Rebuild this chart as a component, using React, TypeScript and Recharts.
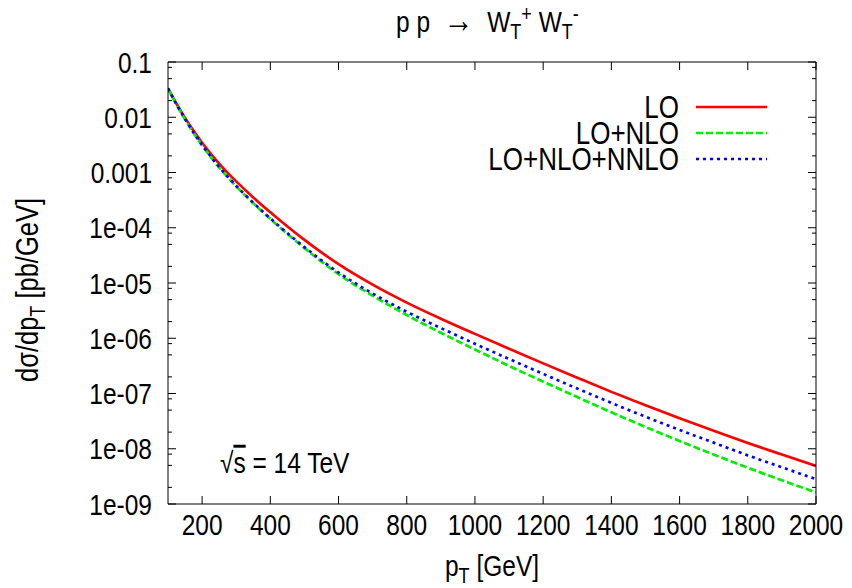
import React from 'react';
import { LineChart, Line, XAxis, YAxis, Legend } from 'recharts';

const pT = [100, 125, 150, 175, 200, 225, 250, 275, 300, 350, 400, 500, 600, 700, 800, 900, 1000, 1100, 1200, 1300, 1400, 1500, 1600, 1700, 1800, 1900, 2000];
const sigmaLO = [3.34e-2, 1.754e-2, 9.75e-3, 5.68e-3, 3.46e-3, 2.2e-3, 1.45e-3, 9.86e-4, 6.9e-4, 3.54e-4, 1.905e-4, 6.03e-5, 2.19e-5, 9.33e-6, 4.42e-6, 2.26e-6, 1.2e-6, 6.46e-7, 3.51e-7, 1.93e-7, 1.07e-7, 6.1e-8, 3.55e-8, 2.11e-8, 1.27e-8, 7.85e-9, 4.9e-9];
const sigmaNLO = [3.34e-2, 1.694e-2, 9.1e-3, 5.18e-3, 3.08e-3, 1.914e-3, 1.233e-3, 8.2e-4, 5.61e-4, 2.78e-4, 1.445e-4, 4.27e-5, 1.445e-5, 5.89e-6, 2.63e-6, 1.259e-6, 6.24e-7, 3.16e-7, 1.64e-7, 8.61e-8, 4.57e-8, 2.48e-8, 1.38e-8, 7.85e-9, 4.52e-9, 2.69e-9, 1.62e-9];
const sigmaNNLO = [3.34e-2, 1.714e-2, 9.31e-3, 5.3e-3, 3.155e-3, 1.96e-3, 1.262e-3, 8.39e-4, 5.74e-4, 2.84e-4, 1.479e-4, 4.47e-5, 1.549e-5, 6.46e-6, 3.02e-6, 1.531e-6, 7.94e-7, 4.22e-7, 2.265e-7, 1.23e-7, 6.76e-8, 3.8e-8, 2.19e-8, 1.29e-8, 7.59e-9, 4.62e-9, 2.82e-9];

const xTicks = [200, 400, 600, 800, 1000, 1200, 1400, 1600, 1800, 2000];
const yMajorTicks = [1e-9, 1e-8, 1e-7, 1e-6, 1e-5, 1e-4, 1e-3, 1e-2, 1e-1];
const yMajorLabels = ['1e-09', '1e-08', '1e-07', '1e-06', '1e-05', '1e-04', '0.001', '0.01', '0.1'];
const yMinorTicks = [
  2e-9, 5e-9, 8e-9, 2e-8, 5e-8, 8e-8, 2e-7, 5e-7, 8e-7, 2e-6, 5e-6, 8e-6,
  2e-5, 5e-5, 8e-5, 2e-4, 5e-4, 8e-4, 2e-3, 5e-3, 8e-3, 2e-2, 5e-2, 8e-2,
];

const seriesKeys = ['lo', 'nlo', 'nnlo'];
const seriesNames = ['LO', 'LO+NLO', 'LO+NLO+NNLO'];
const seriesColors = ['#ff0000', '#00ee00', '#0000ff'];
const seriesDashes = [undefined, '7 3', '3 4'];

const data = pT.map((x, i) => ({ pT: x, lo: sigmaLO[i], nlo: sigmaNLO[i], nnlo: sigmaNNLO[i] }));
const yAllTicks = [...yMajorTicks, ...yMinorTicks].sort((a, b) => a - b);

const FONT = "'Liberation Sans', Arial, Helvetica, sans-serif";
const FS = 24.5;
const SY = 1.2;

const ST = ({ x, y, anchor = 'start', size = FS, rotate = 0, dy, children }: any) => (
  <text
    transform={`translate(${x},${y}) rotate(${rotate}) scale(1,${SY})`}
    x={0}
    y={0}
    dy={dy}
    textAnchor={anchor}
    fontSize={size}
    fontFamily={FONT}
    fill="#000"
    style={{ whiteSpace: 'pre' }}
  >
    {children}
  </text>
);

const majorIndex = (v: number) =>
  yMajorTicks.findIndex((t) => Math.abs(Math.log10(t) - Math.log10(v)) < 1e-6);

const YTick = (props: any) => {
  const { x, y, payload, side } = props;
  const mi = majorIndex(payload.value);
  const len = mi >= 0 ? 8 : 4;
  const dir = side === 'left' ? 1 : -1;
  return (
    <g>
      <line x1={x} y1={y} x2={x + dir * len} y2={y} stroke="#000" strokeWidth={1} />
      {side === 'left' && mi >= 0 && (
        <ST x={x - 16} y={y} dy="0.36em" anchor="end">
          {yMajorLabels[mi]}
        </ST>
      )}
    </g>
  );
};

const XTick = (props: any) => {
  const { x, y, payload, side } = props;
  const dir = side === 'bottom' ? -1 : 1;
  return (
    <g>
      <line x1={x} y1={y} x2={x} y2={y + dir * 8} stroke="#000" strokeWidth={1} />
      {side === 'bottom' && (
        <ST x={x} y={y + 31} anchor="middle">
          {String(payload.value)}
        </ST>
      )}
    </g>
  );
};

const legendY = [107, 133, 159];

const renderLegend = () => (
  <svg width={852} height={200} style={{ display: 'block' }}>
    {seriesNames.map((n, i) => (
      <g key={n}>
        <ST x={679} y={legendY[i]} dy="0.36em" anchor="end" size={26}>
          {n}
        </ST>
        <line
          x1={696}
          x2={767}
          y1={legendY[i]}
          y2={legendY[i]}
          stroke={seriesColors[i]}
          strokeWidth={2.7}
          strokeDasharray={seriesDashes[i]}
        />
      </g>
    ))}
  </svg>
);

export default function App() {
  return (
    <div style={{ position: 'absolute', left: 0, top: 0, width: 852, height: 588, background: '#fff', fontFamily: FONT }}>
      <LineChart width={852} height={588} data={data} margin={{ top: 61, right: 35, bottom: 83, left: 167 }}>
        <XAxis
          xAxisId="bottom"
          dataKey="pT"
          type="number"
          domain={[100, 2000]}
          ticks={xTicks}
          interval={0}
          height={1}
          tickSize={0}
          tickMargin={0}
          tickLine={false}
          axisLine={{ stroke: '#000', strokeWidth: 1 }}
          tick={<XTick side="bottom" />}
          allowDataOverflow
        />
        <XAxis
          xAxisId="top"
          orientation="top"
          dataKey="pT"
          type="number"
          domain={[100, 2000]}
          ticks={xTicks}
          interval={0}
          height={1}
          tickSize={0}
          tickMargin={0}
          tickLine={false}
          axisLine={{ stroke: '#000', strokeWidth: 1 }}
          tick={<XTick side="top" />}
          allowDataOverflow
        />
        <YAxis
          yAxisId="left"
          type="number"
          scale="log"
          domain={[1e-9, 0.1]}
          ticks={yAllTicks}
          interval={0}
          width={1}
          tickSize={0}
          tickMargin={0}
          tickLine={false}
          axisLine={{ stroke: '#000', strokeWidth: 1 }}
          tick={<YTick side="left" />}
          allowDataOverflow
        />
        <YAxis
          yAxisId="right"
          orientation="right"
          type="number"
          scale="log"
          domain={[1e-9, 0.1]}
          ticks={yAllTicks}
          interval={0}
          width={1}
          tickSize={0}
          tickMargin={0}
          tickLine={false}
          axisLine={{ stroke: '#000', strokeWidth: 1 }}
          tick={<YTick side="right" />}
          allowDataOverflow
        />
        <Legend
          layout="horizontal"
          verticalAlign="middle"
          align="center"
          content={renderLegend}
          wrapperStyle={{ left: 0, top: 0, width: 852, height: 200 }}
        />
        {seriesKeys.map((k, i) => (
          <Line
            key={k}
            xAxisId="bottom"
            yAxisId="left"
            dataKey={k}
            name={seriesNames[i]}
            type="monotone"
            stroke={seriesColors[i]}
            strokeWidth={2.7}
            strokeDasharray={seriesDashes[i]}
            dot={false}
            activeDot={false}
            isAnimationActive={false}
          />
        ))}
      </LineChart>
      <svg width={852} height={588} style={{ position: 'absolute', left: 0, top: 0, pointerEvents: 'none' }}>
        <ST x={396} y={32}>
          {'p p  '}
          <tspan fontSize={30}>{'\u2192'}</tspan>
          {'  W'}
          <tspan dy={6} fontSize={18}>T</tspan>
          <tspan dy={-15} fontSize={18}>+</tspan>
          <tspan dy={9}>{' W'}</tspan>
          <tspan dy={6} fontSize={18}>T</tspan>
          <tspan dy={-15} fontSize={18}>-</tspan>
        </ST>
        <ST x={492} y={576} anchor="middle">
          p<tspan dy={6} fontSize={18}>T</tspan>
          <tspan dy={-6}>{' [GeV]'}</tspan>
        </ST>
        <ST x={38} y={290} rotate={-90} anchor="middle" size={25.5}>
          {'d\u03c3/dp'}
          <tspan dy={6} fontSize={18}>T</tspan>
          <tspan dy={-6}>{' [pb/GeV]'}</tspan>
        </ST>
        <ST x={220} y={473}>
          {'\u221a'}
          <tspan style={{ textDecoration: 'overline' }}>s</tspan>
          {' = 14 TeV'}
        </ST>
      </svg>
    </div>
  );
}
